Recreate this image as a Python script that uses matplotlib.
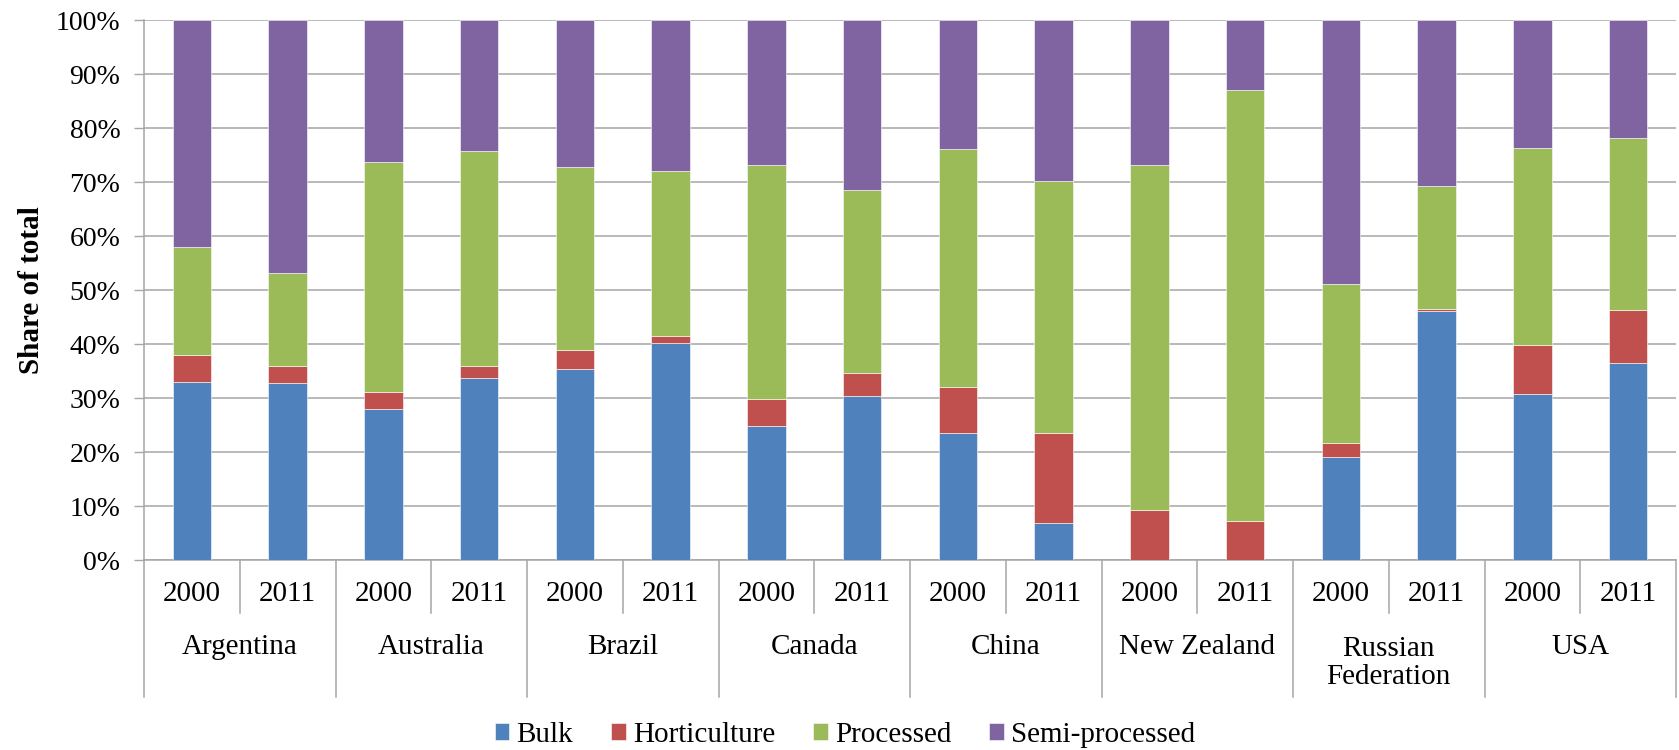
import matplotlib.pyplot as plt
import matplotlib.transforms as mtransforms
import numpy as np

countries = ['Argentina', 'Australia', 'Brazil', 'Canada', 'China',
             'New Zealand', 'Russian\nFederation', 'USA']
years = ['2000', '2011']

# shares in %, order: Arg00, Arg11, Aus00, Aus11, ...
bulk = [33.0, 32.7, 28.0, 33.7, 35.4, 40.1, 24.9, 30.3,
        23.5, 6.9, 0.0, 0.0, 19.0, 46.1, 30.7, 36.5]
horticulture = [4.9, 3.3, 3.1, 2.2, 3.5, 1.4, 5.0, 4.4,
                8.5, 16.6, 9.3, 7.2, 2.6, 0.3, 9.1, 9.8]
processed = [20.1, 17.1, 42.6, 39.9, 33.9, 30.6, 43.2, 33.8,
             44.1, 46.7, 63.9, 79.8, 29.6, 22.8, 36.5, 31.9]
semi_processed = [42.0, 46.9, 26.3, 24.2, 27.2, 27.9, 26.9, 31.5,
                  23.9, 29.8, 26.8, 13.0, 48.8, 30.8, 23.7, 21.8]

series = [('Bulk', bulk, '#4F81BD'),
          ('Horticulture', horticulture, '#C0504D'),
          ('Processed', processed, '#9BBB59'),
          ('Semi-processed', semi_processed, '#8064A2')]

plt.rcParams['font.family'] = 'Liberation Serif'
plt.rcParams['font.size'] = 21

fig = plt.figure(figsize=(16.79, 7.5), dpi=100)
ax = fig.add_axes([144/1679, 1 - 560/750, (1676-144)/1679, 540/750])

x = np.arange(len(bulk))
bottom = np.zeros(len(bulk))
for name, vals, col in series:
    vals = np.array(vals) / 100
    ax.bar(x, vals, width=0.4, bottom=bottom, color=col, label=name,
           edgecolor='white', linewidth=0.4, zorder=3)
    bottom += vals

ax.set_xlim(-0.5, len(bulk) - 0.5)
ax.set_ylim(0, 1)
ax.set_yticks(np.arange(0, 1.01, 0.1))
ax.set_yticklabels([f'{int(round(v*100))}%' for v in np.arange(0, 1.01, 0.1)],
                   fontsize=20)
ax.yaxis.grid(True, color='#A6A6A6', linewidth=1.1, zorder=0)
ax.set_axisbelow(True)
ax.tick_params(axis='y', length=7, width=1, color='#A6A6A6', pad=10)
ax.tick_params(axis='x', length=0, labelbottom=False)
for s in ['top', 'right']:
    ax.spines[s].set_visible(False)
for s in ['left', 'bottom']:
    ax.spines[s].set_color('#A6A6A6')
    ax.spines[s].set_linewidth(1.1)

ax.set_ylabel('Share of total', fontweight='bold', labelpad=8)

# two level category axis
trans = mtransforms.blended_transform_factory(ax.transData, ax.transAxes)
def below(p):
    return -(p - 560) / 540

for i in range(len(bulk)):
    ax.text(i, below(594), years[i % 2], ha='center', va='center', transform=trans)
    if i % 2 == 1:
        ax.plot([i - 0.5, i - 0.5], [0, below(613)], color='#A6A6A6', lw=1.1,
                transform=trans, clip_on=False)
for g in range(len(countries) + 1):
    ax.plot([2*g - 0.5, 2*g - 0.5], [0, below(697)], color='#A6A6A6', lw=1.1,
            transform=trans, clip_on=False)
for g, c in enumerate(countries):
    yy = below(663) if '\n' in c else below(647)
    ax.text(2*g + 0.5, yy, c, ha='center', va='center', transform=trans,
            linespacing=1.1)

fig.legend(loc='center', bbox_to_anchor=(845/1679, 1 - 735/750), ncol=4,
           frameon=False, handlelength=0.5, handleheight=0.5,
           handletextpad=0.25, columnspacing=1.3, borderaxespad=0)

fig.savefig('out.png', dpi=100)
